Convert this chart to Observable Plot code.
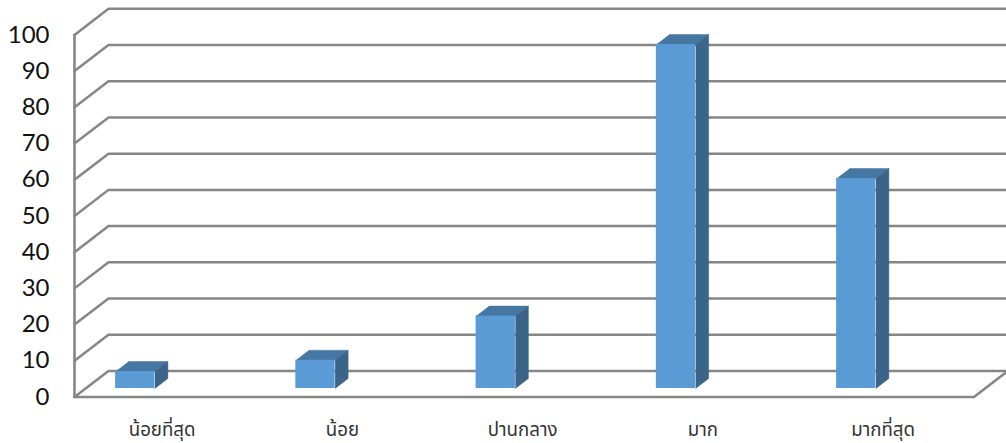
<!DOCTYPE html>
<html lang="th"><head><meta charset="utf-8">
<script src="https://cdn.jsdelivr.net/npm/d3@7"></script>
<script src="https://cdn.jsdelivr.net/npm/@observablehq/plot@0.6"></script>
<style>html,body{margin:0;padding:0;background:#fff;overflow:hidden}svg{display:block;max-width:none!important}</style>
</head><body><div id="chart"></div>
<script>
const categories = ["น้อยที่สุด","น้อย","ปานกลาง","มาก","มากที่สุด"];
const values = [4.7, 7.8, 20, 95, 58];
const gridTicks = [0,10,20,30,40,50,60,70,80,90,100];
const slots = [0,1,2,3,4];
// depth of the wall and the bars, in axis units (slots across, value units up)
const wallDx = 0.1886, wallDy = 7.2;
const barDx = 0.072, barDy = 2.75;
const barLift = 2.35, barLeft = 0.228, barWidth = 0.218;
const xEnd = 5.1706;
const gray = "#868686";

const bars = categories.map((c,i)=>({c, v:values[i], x1:i+barLeft, x2:i+barLeft+barWidth, y1:barLift, y2:barLift+values[i]}));
const poly = (k,pts)=>pts.map(([x,y])=>({k,x,y}));
const tops = bars.flatMap(b=>poly(b.c,[[b.x1,b.y2],[b.x2,b.y2],[b.x2+barDx,b.y2+barDy],[b.x1+barDx,b.y2+barDy]]));
const sides = bars.flatMap(b=>poly(b.c,[[b.x2,b.y1],[b.x2+barDx,b.y1+barDy],[b.x2+barDx,b.y2+barDy],[b.x2,b.y2]]));
const grid = gridTicks.flatMap(t=>poly(t,[[0,t],[wallDx,t+wallDy],[xEnd,t+wallDy]]));

const plot = Plot.plot({
  width:1006, height:443,
  marginLeft:74, marginRight:0, marginTop:0, marginBottom:46.5,
  x:{type:"linear", domain:[0,xEnd]},
  y:{type:"linear", domain:[0,109.5]},
  style:{background:"#fff", fontFamily:"Lato, 'Noto Sans Thai', Tahoma, sans-serif", overflow:"hidden"},
  marks:[
    Plot.line(grid,{x:"x",y:"y",z:"k",stroke:gray,strokeWidth:2.5,strokeLinejoin:"miter"}),
    Plot.line([{x:0,y:0},{x:0,y:100}],{x:"x",y:"y",stroke:gray,strokeWidth:2.6}),
    Plot.line([{x:0,y:0},{x:4.99,y:0},{x:4.99+wallDx,y:wallDy}],{x:"x",y:"y",stroke:gray,strokeWidth:2.6}),
    Plot.line(tops,{x:"x",y:"y",z:"k",fill:"#4676a2",stroke:"#4676a2",strokeWidth:0.5}),
    Plot.line(sides,{x:"x",y:"y",z:"k",fill:"#3a6488",stroke:"#3a6488",strokeWidth:0.5}),
    Plot.rect(bars,{x1:"x1",x2:"x2",y1:"y1",y2:"y2",fill:"#5b9bd5",inset:0}),
    Plot.axisY(gridTicks,{anchor:"left",tickSize:0,tickPadding:25,fontSize:24,fill:"#111",label:null}),
    Plot.axisX(slots.map(s=>s+0.5),{anchor:"bottom",tickSize:0,tickPadding:26,fontSize:18.7,dx:-2.5,fill:"#333",label:null,
      tickFormat:d=>categories[Math.floor(d)]})
  ]
});
document.getElementById("chart").append(plot);
</script></body></html>
